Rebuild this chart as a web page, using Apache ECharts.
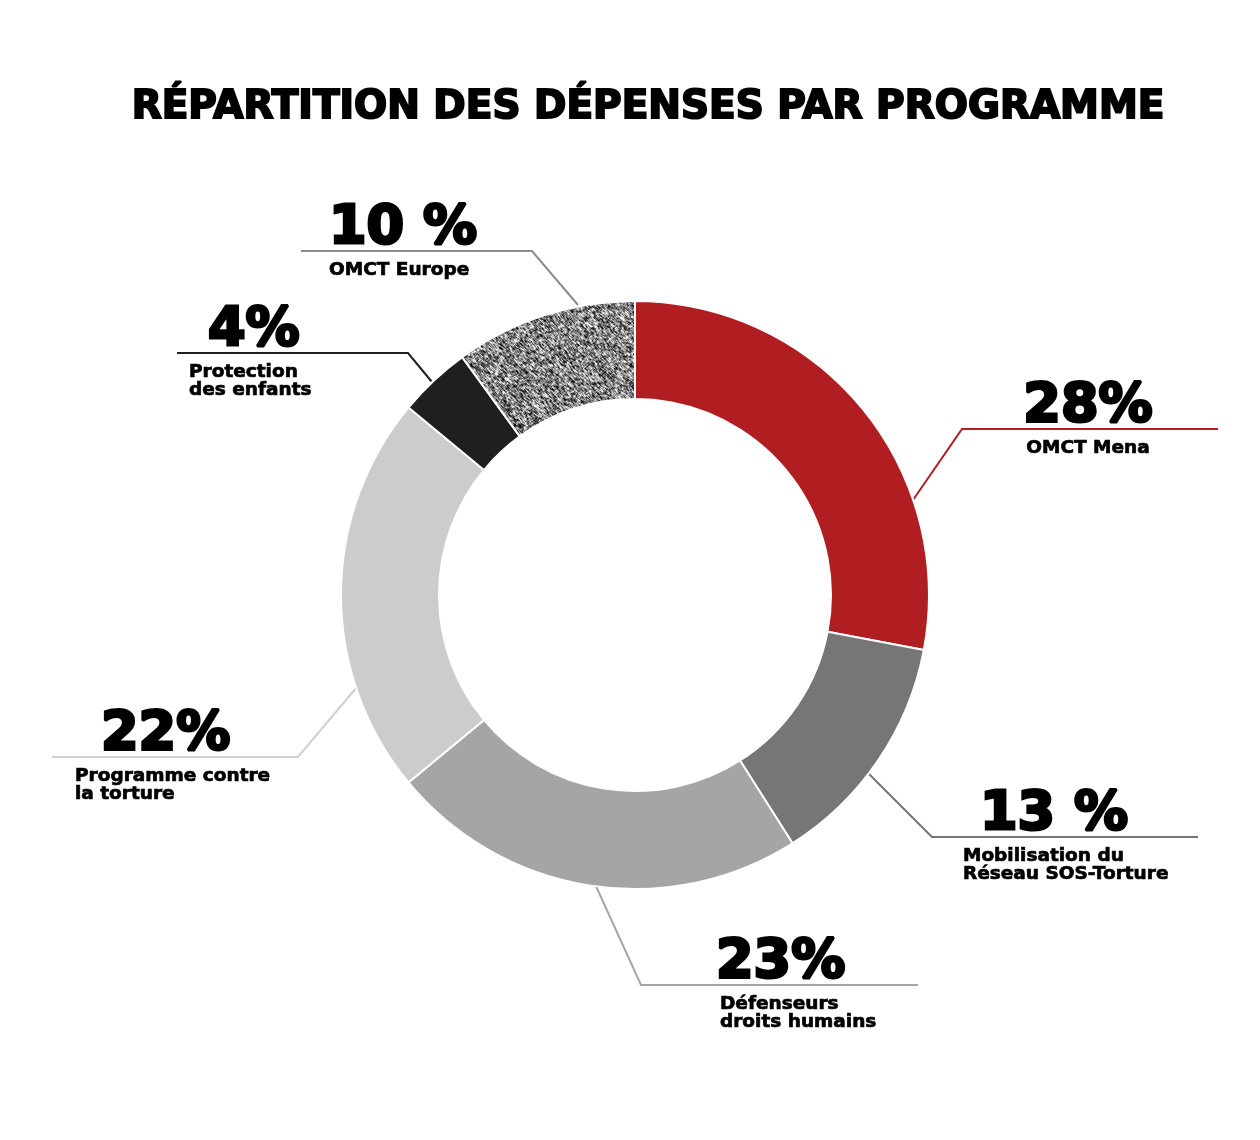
<!DOCTYPE html>
<html lang="fr" style="height: 100%">
<head>
    <meta charset="utf-8">
    <title>Répartition des dépenses par programme</title>
    <style>
        body { margin: 0; background: #ffffff; }
        #chart { width: 1260px; height: 1140px; }
    </style>
</head>
<body>
<div id="chart"></div>
<script src="https://cdn.jsdelivr.net/npm/echarts@6/dist/echarts.min.js"></script>
<script>
    // données
    const categories = ['OMCT Mena', 'Mobilisation du\nRéseau SOS-Torture', 'Défenseurs\ndroits humains',
        'Programme contre\nla torture', 'Protection\ndes enfants', 'OMCT Europe'];
    const shares = [28, 13, 23, 22, 4, 10];
    const shareLabels = ['28%', '13 %', '23%', '22%', '4%', '10 %'];

    // styles
    const colors = ['#b01e22', '#767676', '#a5a5a5', '#cccccc', '#1f1f1f', 'texture'];
    const lineColors = ['#b01e22', '#767676', '#a5a5a5', '#d0d0d0', '#1f1f1f', '#8c8c8c'];
    const leaders = [
        { line: [[913, 500], [962, 429], [1218, 429]], x: 1088, align: 'center', padP: 0, padN: 0 },
        { line: [[868, 773], [932, 837], [1198, 837]], x: 963, align: 'left', padP: 17, padN: 0 },
        { line: [[595, 884], [641, 985], [918, 985]], x: 716, align: 'left', padP: 0, padN: 4 },
        { line: [[357, 687], [298, 757], [52, 757]], x: 75, align: 'left', padP: 26, padN: 0 },
        { line: [[432, 382], [408, 353], [177, 353]], x: 189, align: 'left', padP: 19, padN: 0 },
        { line: [[578, 305], [532, 251], [301, 251]], x: 329, align: 'left', padP: 0, padN: 0 }
    ];

    // texture granuleuse pour OMCT Europe (bruit lissé)
    const N = 160;
    const tex = document.createElement('canvas');
    tex.width = tex.height = N;
    const tctx = tex.getContext('2d');
    let seed = 12345;
    const rnd = () => { seed = (seed * 16807) % 2147483647; return seed / 2147483647; };
    const raw = new Float32Array(N * N);
    for (let i = 0; i < N * N; i++) raw[i] = rnd();
    const at = (x, y) => raw[((y + N) % N) * N + ((x + N) % N)];
    const img = tctx.createImageData(N, N);
    for (let y = 0; y < N; y++) {
        for (let x = 0; x < N; x++) {
            const s = (at(x, y) * 2 + at(x - 1, y - 1) + at(x + 1, y + 1) + at(x + 1, y) + at(x, y + 1)) / 6;
            const g = Math.max(0, Math.min(255, (s - 0.5) * 1.5 * 255 + 132));
            const i = (y * N + x) * 4;
            img.data[i] = img.data[i + 1] = img.data[i + 2] = g;
            img.data[i + 3] = 255;
        }
    }
    tctx.putImageData(img, 0, 0);

    const fontFamily = '"DejaVu Sans", sans-serif';

    const seriesData = categories.map((name, i) => ({
        name: name,
        value: shares[i],
        itemStyle: {
            color: colors[i] === 'texture' ? { image: tex, repeat: 'repeat' } : colors[i]
        },
        label: {
            align: leaders[i].align,
            rich: {
                p: {
                    fontFamily: fontFamily, fontWeight: 'bold', fontSize: 54, lineHeight: 64,
                    color: '#000', textBorderColor: '#000', textBorderWidth: 3,
                    padding: [0, 0, 0, leaders[i].padP]
                },
                n: {
                    fontFamily: fontFamily, fontWeight: 'bold', fontSize: 18.5, lineHeight: 18,
                    color: '#000', textBorderColor: '#000', textBorderWidth: 0.7,
                    padding: [0, 0, 0, leaders[i].padN]
                }
            }
        },
        labelLine: { lineStyle: { color: lineColors[i], width: 2 } }
    }));

    const chart = echarts.init(document.getElementById('chart'));
    chart.setOption({
        backgroundColor: '#ffffff',
        animation: false,
        title: {
            text: 'RÉPARTITION DES DÉPENSES PAR PROGRAMME',
            left: 643,
            top: 83,
            textAlign: 'center',
            textStyle: {
                fontFamily: fontFamily, fontWeight: 'bold', fontSize: 39, color: '#000',
                textBorderColor: '#000', textBorderWidth: 2
            }
        },
        series: [{
            type: 'pie',
            center: [635, 595],
            radius: [196, 294],
            startAngle: 90,
            clockwise: true,
            avoidLabelOverlap: false,
            itemStyle: { borderColor: '#ffffff', borderWidth: 2 },
            label: {
                show: true,
                position: 'outside',
                formatter: p => '{p|' + shareLabels[p.dataIndex] + '}\n{n|' + p.name + '}'
            },
            labelLine: { show: true, length: 20, length2: 40, smooth: false },
            labelLayout: params => {
                const l = leaders[params.dataIndex];
                return {
                    x: l.x,
                    y: l.line[1][1] - 54,
                    align: l.align,
                    verticalAlign: 'top',
                    labelLinePoints: l.line
                };
            },
            emphasis: { disabled: true },
            data: seriesData
        }]
    });
</script>
</body>
</html>
